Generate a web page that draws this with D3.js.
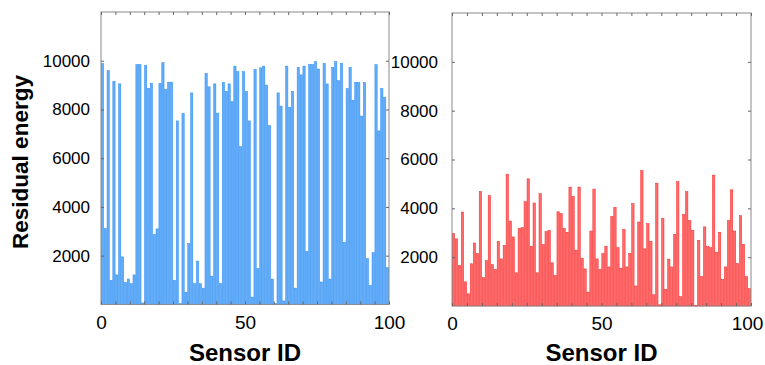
<!DOCTYPE html>
<html>
<head>
<meta charset="utf-8">
<script src="https://cdn.jsdelivr.net/npm/d3@7/dist/d3.min.js"></script>
<style>
  html, body { margin: 0; padding: 0; background: #fff; }
  svg { display: block; font-family: "Liberation Sans", Arial, sans-serif; }
  .tick text { fill: #000; }
</style>
</head>
<body>
<svg id="chart" width="765" height="365"></svg>
<script>
// Residual energy per sensor (IDs 1..100) under the two schemes
const sensorIds = d3.range(1, 101);

const energyBlue = [
  9890, 3110, 9590, 990, 9160, 1210, 9050, 1950, 900, 1040,
  850, 1210, 9840, 9840, 60, 9800, 8870, 9070, 2870, 3100,
  9070, 9920, 8820, 9120, 9120, 990, 7530, 30, 7840, 500,
  2490, 8680, 850, 1780, 850, 670, 9480, 8930, 1160, 9050,
  7850, 850, 9110, 8750, 9050, 8320, 9780, 9550, 6470, 9550,
  8740, 7530, 300, 9640, 1470, 9710, 9780, 9000, 7340, 1040,
  30, 8680, 8140, 140, 9780, 8080, 8740, 670, 9730, 9420,
  9780, 2180, 9840, 9840, 9960, 9660, 920, 9890, 9050, 1040,
  9730, 9960, 9180, 9890, 2550, 8860, 9730, 8380, 9110, 9110,
  7730, 9110, 1880, 780, 2120, 9840, 7120, 8860, 8490, 1510
];

const energyRed = [
  2970, 2750, 1660, 3850, 990, 500, 1730, 2580, 2150, 4690,
  1160, 1860, 4520, 1690, 1500, 2650, 1930, 2480, 5400, 3480,
  2830, 1360, 3180, 3210, 4270, 5210, 2450, 4220, 1360, 4600,
  2520, 3050, 3100, 1770, 1250, 3860, 3780, 3180, 3020, 4870,
  4490, 2290, 4870, 1960, 1520, 570, 3070, 4790, 1930, 1500,
  2150, 2450, 1600, 3670, 4040, 2390, 1550, 3130, 1600, 2150,
  4190, 820, 3440, 5540, 2340, 3370, 2650, 460, 5030, 50,
  3590, 680, 1920, 1600, 2940, 5090, 380, 3740, 4680, 3500,
  3100, 30, 2690, 1200, 3240, 2450, 2390, 5360, 2200, 3020,
  1090, 1600, 3500, 4760, 3070, 1740, 3700, 2520, 1200, 710
];

const yTickValues = [2000, 4000, 6000, 8000, 10000];
const xLabelValues = [0, 50, 100];
const xTickValues = d3.range(0, 101, 5);
const yTitle = "Residual energy";
const xTitle = "Sensor ID";

const svg = d3.select("#chart");

const panels = [
  { values: energyBlue, x0: 101, x1: 389, yTop: 12, yBottom: 304.4,
    fill: "#62acf9", edge: "#2f8ef0", labelGap: 8, lastShift: 0 },
  { values: energyRed, x0: 452, x1: 751, yTop: 13, yBottom: 306,
    fill: "#ff6b6b", edge: "#f52a2a", labelGap: 11, lastShift: -4 }
];

panels.forEach(p => {
  const x = d3.scaleLinear().domain([0, 100]).range([p.x0, p.x1]);
  const y = d3.scaleLinear().domain([0, 12000]).range([p.yBottom, p.yTop]);
  const g = svg.append("g");

  // bars: sensor i occupies [i-1, i]
  g.append("g").selectAll("rect")
    .data(sensorIds)
    .join("rect")
    .attr("x", i => x(i - 1) + 0.3)
    .attr("width", i => x(i) - x(i - 1) - 0.6)
    .attr("y", (i, k) => y(p.values[k]))
    .attr("height", (i, k) => y(0) - y(p.values[k]))
    .attr("fill", p.fill)
    .attr("stroke", p.edge)
    .attr("stroke-width", 0.5);

  // plot box
  g.append("rect")
    .attr("x", p.x0).attr("y", p.yTop)
    .attr("width", p.x1 - p.x0).attr("height", p.yBottom - p.yTop)
    .attr("fill", "none").attr("stroke", "#8a8a8a").attr("stroke-width", 1);

  // inward ticks on all four sides
  const tickStyle = sel => {
    sel.select(".domain").remove();
    sel.selectAll(".tick line").attr("stroke", "#666");
  };
  g.append("g").attr("transform", `translate(0,${p.yTop})`)
    .call(d3.axisTop(x).tickValues(xTickValues).tickSize(-3).tickFormat(""))
    .call(tickStyle);
  g.append("g").attr("transform", `translate(0,${p.yBottom})`)
    .call(d3.axisBottom(x).tickValues(xTickValues).tickSize(-3).tickFormat(""))
    .call(tickStyle);
  g.append("g").attr("transform", `translate(${p.x1},0)`)
    .call(d3.axisRight(y).tickValues(yTickValues).tickSize(-3).tickFormat(""))
    .call(tickStyle);

  // y axis ticks with labels
  const ya = g.append("g").attr("transform", `translate(${p.x0},0)`)
    .call(d3.axisLeft(y).tickValues(yTickValues).tickSize(-3)
      .tickPadding(p.labelGap + 3).tickFormat(d3.format("d")))
    .call(tickStyle);
  ya.selectAll(".tick text").attr("font-size", 17)
    .attr("font-family", "Liberation Sans, Arial, sans-serif");

  // x axis labels
  const xa = g.append("g").attr("transform", `translate(0,${p.yBottom})`)
    .call(d3.axisBottom(x).tickValues(xLabelValues).tickSize(0)
      .tickPadding(11).tickFormat(d3.format("d")))
    .call(tickStyle);
  xa.selectAll(".tick text").attr("font-size", 19)
    .attr("font-family", "Liberation Sans, Arial, sans-serif")
    .attr("dx", d => d === 100 ? p.lastShift : 0);

  // x title
  g.append("text")
    .attr("x", (p.x0 + p.x1) / 2)
    .attr("y", 361)
    .attr("text-anchor", "middle")
    .attr("font-size", 24)
    .attr("font-weight", "bold")
    .text(xTitle);
});

// y title
svg.append("text")
  .attr("transform", "translate(28,162) rotate(-90)")
  .attr("text-anchor", "middle")
  .attr("font-size", 22.5)
  .attr("font-weight", "bold")
  .text(yTitle);
</script>
</body>
</html>
